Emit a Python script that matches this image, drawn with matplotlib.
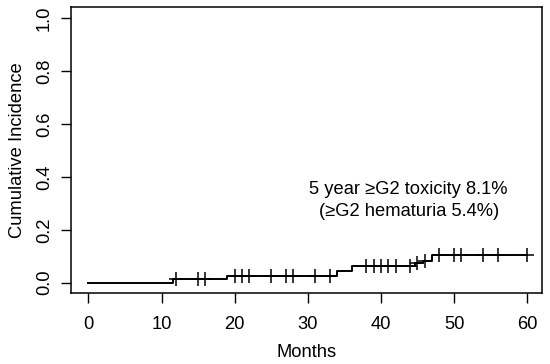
import matplotlib.pyplot as plt
import numpy as np

plt.rcParams['font.family'] = ['Liberation Sans', 'DejaVu Sans']

# Step curve of cumulative incidence (event times, level after the step)
step_t = [0, 11.6, 19.0, 34.0, 36.0, 44.7, 45.8, 47.0, 60.0]
step_y = [0.0, 0.013, 0.027, 0.044, 0.063, 0.073, 0.082, 0.104, 0.104]

# Censoring times
cens_t = [12, 15, 16, 20, 21, 22, 25, 27, 28, 31, 33, 38, 39, 40, 41, 42,
          44, 45, 46, 48, 50, 51, 54, 56, 60]

x_ticks = [0, 10, 20, 30, 40, 50, 60]
y_ticks = [0.0, 0.2, 0.4, 0.6, 0.8, 1.0]


def level_at(t):
    i = np.searchsorted(step_t, t, side='right') - 1
    return step_y[i]


fig = plt.figure(figsize=(5.5, 3.64), dpi=100)
ax = fig.add_axes([0.129, 0.195, 0.856, 0.786])

ax.step(step_t, step_y, where='post', color='black', lw=1.4)
cy = [level_at(t) for t in cens_t]
ax.plot(cens_t, cy, ls='none', marker='+', ms=10, mew=1.1, color='black')

ax.set_xlim(-2.4, 62.0)
ax.set_ylim(-0.039, 1.043)
ax.set_xticks(x_ticks)
ax.set_yticks(y_ticks)
ax.set_yticklabels([f"{v:.1f}" for v in y_ticks], rotation=90, va='center')
ax.tick_params(direction='out', length=7, width=1, labelsize=13.2)
ax.tick_params(axis='x', pad=9.5)
ax.tick_params(axis='y', pad=6)

for s in ax.spines.values():
    s.set_linewidth(1.1)

ax.set_xlabel("Months", fontsize=13.2, labelpad=8)
ax.set_ylabel("Cumulative Incidence", fontsize=13.2, labelpad=7)

ax.text(43.8, 0.354, "5 year \u2265G2 toxicity 8.1%", fontsize=13.2,
        ha='center', va='center')
ax.text(43.8, 0.269, "(\u2265G2 hematuria 5.4%)", fontsize=13.2,
        ha='center', va='center')

fig.savefig("out.png", dpi=100)
